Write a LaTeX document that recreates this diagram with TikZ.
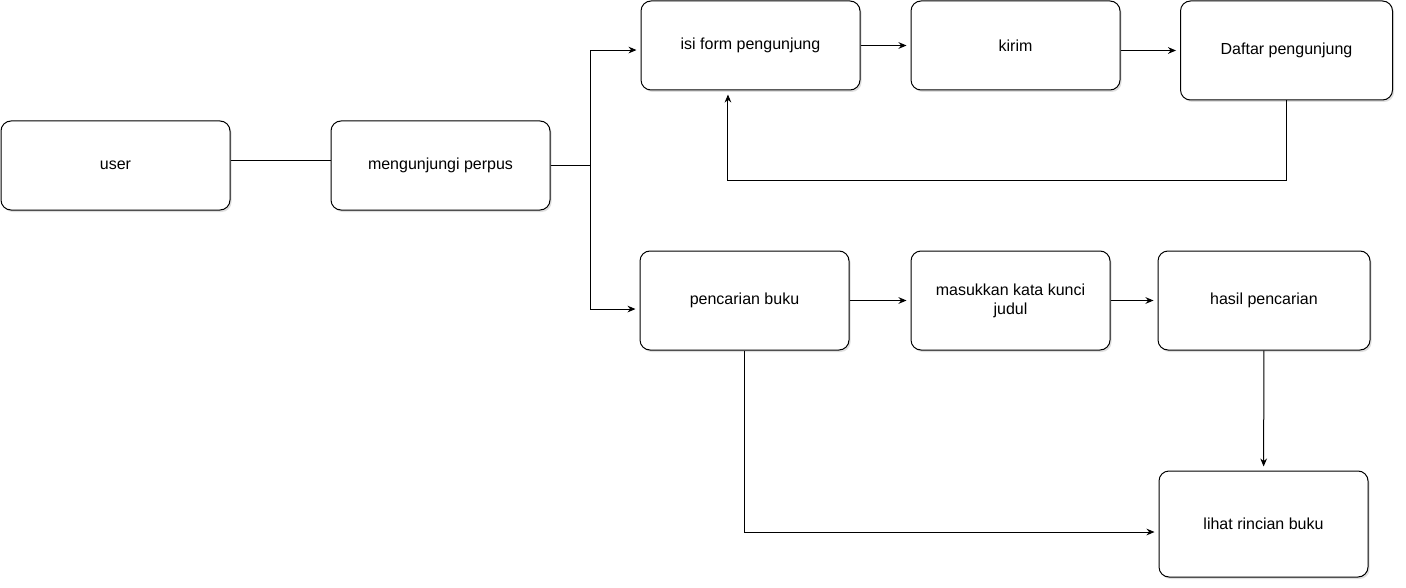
\documentclass[tikz,border=0pt]{standalone}
\usepackage{fontspec}
\setmainfont{Liberation Sans}
\usetikzlibrary{arrows.meta,shadows}
\tikzset{
  box/.style={draw, rounded corners=7.5pt, fill=white, line width=0.75pt,
    inner sep=0pt, align=center, font=\fontsize{12}{14.4}\selectfont,
    drop shadow={opacity=0.25, shadow xshift=1.2pt, shadow yshift=-1.5pt}},
  link/.style={line width=0.75pt},
  flow/.style={line width=0.75pt, -{Stealth[length=6pt,width=5pt]}, shorten >=3pt}
}
\begin{document}
\begin{tikzpicture}[x=0.75pt,y=-0.75pt]
        \useasboundingbox (0,0) rectangle (1406,588);
        \node[box, minimum width=171.75pt, minimum height=66.75pt] (user) at (115.5, 165.5) {user};
        \node[box, minimum width=164.25pt, minimum height=66.75pt] (visit) at (440.5, 165.5) {mengunjungi perpus};
        \node[box, minimum width=164.25pt, minimum height=66.75pt] (form) at (750.5, 45.5) {isi form pengunjung};
        \node[box, minimum width=156.75pt, minimum height=66.75pt] (send) at (1015.5, 45.5) {kirim};
        \node[box, minimum width=159pt, minimum height=74.25pt] (list) at (1286.5, 50.5) {Daftar pengunjung};
        \node[box, minimum width=156.75pt, minimum height=74.25pt] (search) at (744.5, 300.5) {pencarian buku};
        \node[box, minimum width=149.25pt, minimum height=74.25pt] (keyword) at (1010.5, 300.5) {masukkan kata kunci\\judul};
        \node[box, minimum width=159pt, minimum height=74.25pt] (result) at (1264, 300.5) {hasil pencarian};
        \node[box, minimum width=156.75pt, minimum height=79.5pt] (detail) at (1263.5, 524) {lihat rincian buku};
        \draw[link] ([yshift=4pt]user.east) -- ([yshift=4pt]visit.west);
        \draw[flow] (visit.east) -- ++(40,0) |- ([yshift=-3.4pt]form.west);
        \draw[flow] (visit.east) -- ++(40,0) |- ([yshift=-6.4pt]search.west);
        \draw[flow] (form) -- (send);
        \draw[flow] (list.west -| send.east) -- (list.west);
        \draw[flow] (list.south) -- ++(0,80) -| ([xshift=-16.9pt]form.south);
        \draw[flow] (search) -- (keyword);
        \draw[flow] (keyword) -- (result);
        \draw[flow] (result) -- (detail);
        \draw[flow] (search.south) |- ([yshift=-6pt]detail.west);
        \end{tikzpicture}
\end{document}
